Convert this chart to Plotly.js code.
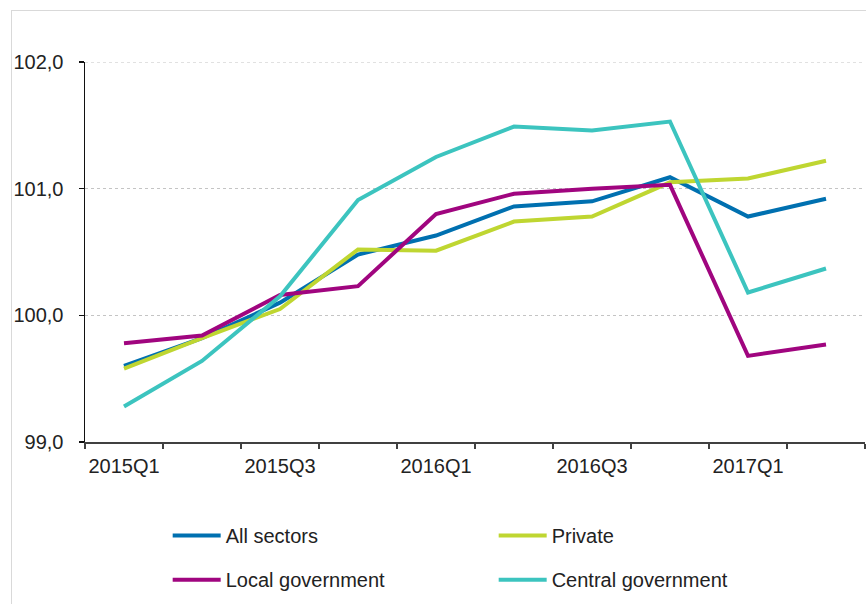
<!DOCTYPE html>
<html>
<head>
<meta charset="utf-8">
<script src="https://cdn.plot.ly/plotly-3.0.1.min.js"></script>
<style>
html,body{margin:0;padding:0;background:#fff;}
#frame{position:absolute;left:11px;top:10px;width:900px;height:700px;border-left:1px solid #d9d9d9;border-top:1px solid #d9d9d9;}
#chart{position:absolute;left:0;top:0;width:866px;height:604px;}
</style>
</head>
<body>
<div id="frame"></div>
<div id="chart"></div>
<script>
var quarters = ['2015Q1','2015Q2','2015Q3','2015Q4','2016Q1','2016Q2','2016Q3','2016Q4','2017Q1','2017Q2'];
var tickLabels = ['2015Q1','','2015Q3','','2016Q1','','2016Q3','','2017Q1',''];
var allSectors = [99.60, 99.82, 100.10, 100.48, 100.63, 100.86, 100.90, 101.09, 100.78, 100.92];
var privateSector = [99.58, 99.82, 100.05, 100.52, 100.51, 100.74, 100.78, 101.05, 101.08, 101.22];
var localGov = [99.78, 99.84, 100.16, 100.23, 100.80, 100.96, 101.00, 101.03, 99.68, 99.77];
var centralGov = [99.28, 99.64, 100.15, 100.91, 101.25, 101.49, 101.46, 101.53, 100.18, 100.37];
var yMax = 102;

var names = ['All sectors','Private','Local government','Central government'];
var colors = ['#0070b0','#bfd631','#a0057f','#3cc4bf'];
var legendIds = ['legend','legend','legend2','legend2'];
var series = [allSectors, privateSector, localGov, centralGov];

var traces = series.map(function(s, i){
  return {x: quarters, y: s, name: names[i], type: 'scatter', mode: 'lines',
          legend: legendIds[i], line: {color: colors[i], width: 4}};
});

var legendBase = {
  orientation: 'h', xanchor: 'left', yanchor: 'top',
  entrywidth: 263, entrywidthmode: 'pixels', itemwidth: 48,
  font: {size: 20, color: '#222'}, bgcolor: 'rgba(0,0,0,0)', traceorder: 'normal'
};

var layout = {
  width: 866, height: 604,
  paper_bgcolor: 'rgba(0,0,0,0)', plot_bgcolor: 'rgba(0,0,0,0)',
  margin: {l: 85, r: 1, t: 62, b: 162},
  separators: ', ',
  font: {family: 'Liberation Sans, Arial, sans-serif', size: 20, color: '#222'},
  showlegend: true,
  xaxis: {
    type: 'category', tickmode: 'array', tickvals: quarters, ticktext: tickLabels,
    tickson: 'boundaries', ticks: 'outside', ticklen: 5, tickcolor: '#404040', tickwidth: 1.5,
    showline: true, linecolor: '#404040', linewidth: 1.5, tickangle: 0,
    showgrid: false, zeroline: false, range: [-0.5, 9.5],
    tickfont: {size: 20, color: '#222'}, ticklabelstandoff: 5
  },
  yaxis: {
    range: [99, yMax], dtick: 1, tick0: 99, tickformat: '.1f',
    ticks: 'outside', ticklen: 5, tickcolor: '#111', tickwidth: 1.5,
    showline: true, linecolor: '#111', linewidth: 1.5,
    showgrid: true, gridcolor: '#c4c4c4', griddash: 'dot', gridwidth: 1,
    zeroline: false, tickfont: {size: 20, color: '#222'}, ticklabelstandoff: 11
  },
  shapes: [{type: 'line', xref: 'paper', yref: 'y', x0: 0, x1: 1, y0: yMax, y1: yMax,
            line: {color: '#c4c4c4', width: 1, dash: 'dot'}, layer: 'below'}],
  legend: Object.assign({}, legendBase, {x: 0.106, y: -0.195}),
  legend2: Object.assign({}, legendBase, {x: 0.106, y: -0.311})
};

Plotly.newPlot('chart', traces, layout, {displayModeBar: false, staticPlot: true});
</script>
</body>
</html>
